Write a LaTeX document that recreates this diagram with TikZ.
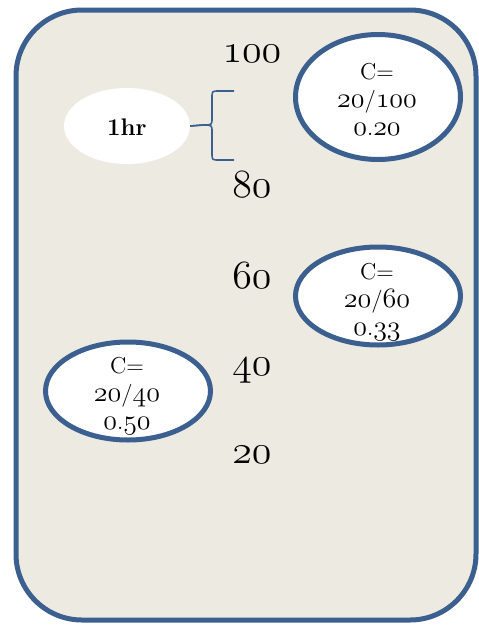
\documentclass[tikz,border=0pt]{standalone}
\usetikzlibrary{shapes.geometric}
\definecolor{bordblue}{HTML}{3B5F8F}
\definecolor{panel}{HTML}{EDEBE1}
\font\osbig=cmmi12 at 40pt
\font\osmid=cmmi12 at 28pt
\font\crm=cmr12 at 23pt
\font\cbf=cmbx12 at 24pt
\tikzset{
  ring/.style={draw=bordblue, line width=5pt, fill=white, ellipse, inner sep=0pt},
  scale num/.style={anchor=base, font=\osbig},
  ctext/.style={anchor=base, font=\crm},
}
\newcommand{\os}[1]{{\osmid #1}}
\begin{document}
\begin{tikzpicture}[x=1pt,y=-1pt]
\useasboundingbox (0,0) rectangle (479,625);
\fill[white] (0,0) rectangle (479,625);
% panel
\draw[draw=bordblue, fill=panel, line width=5pt, rounded corners=66pt] (16,10) rectangle (476,620);
% scale numbers
\node[scale num] (n100) at (252,62) {100};
\node[scale num] (n80) at (252,197) {80};
\node[scale num] (n60) at (252,288) {60};
\node[scale num] (n40) at (252,375) {40};
\node[scale num] (n20) at (252,463) {20};
% 1hr ellipse
\node[ellipse, fill=white, minimum width=126pt, minimum height=76pt, inner sep=0pt] (hr) at (127,126) {};
\node[anchor=base, font=\cbf] (hrt) at (127,135) {1hr};
% brace
\coordinate (bt) at (234,91);
\coordinate (bb) at (234,160);
\draw[bordblue, line width=1.6pt] (bt) -- (219,91) .. controls (212,91) .. (212,98) -- (212,118)
  .. controls (212,125) .. (203,125) -- (hr.east);
\draw[bordblue, line width=1.6pt] (hr.east) -- (203,125) .. controls (212,125) .. (212,132) -- (212,153)
  .. controls (212,160) .. (219,160) -- (bb);
% ellipse 1
\node[ring, minimum width=165pt, minimum height=125pt] (e1) at (378,97) {};
\node[ctext] (e1a) at (377,79) {C=};
\node[ctext] (e1b) at (377,107) {\os{20}/\os{100}};
\node[ctext] (e1c) at (377,135) {\os{0}.\os{20}};
% ellipse 2
\node[ring, minimum width=165pt, minimum height=98pt] (e2) at (378,296) {};
\node[ctext] (e2a) at (377,279) {C=};
\node[ctext] (e2b) at (377,307) {\os{20}/\os{60}};
\node[ctext] (e2c) at (377,335) {\os{0}.\os{33}};
% ellipse 3
\node[ring, minimum width=165pt, minimum height=98pt] (e3) at (128,391) {};
\node[ctext] (e3a) at (127,373) {C=};
\node[ctext] (e3b) at (127,401) {\os{20}/\os{40}};
\node[ctext] (e3c) at (127,429) {\os{0}.\os{50}};
\end{tikzpicture}
\end{document}
